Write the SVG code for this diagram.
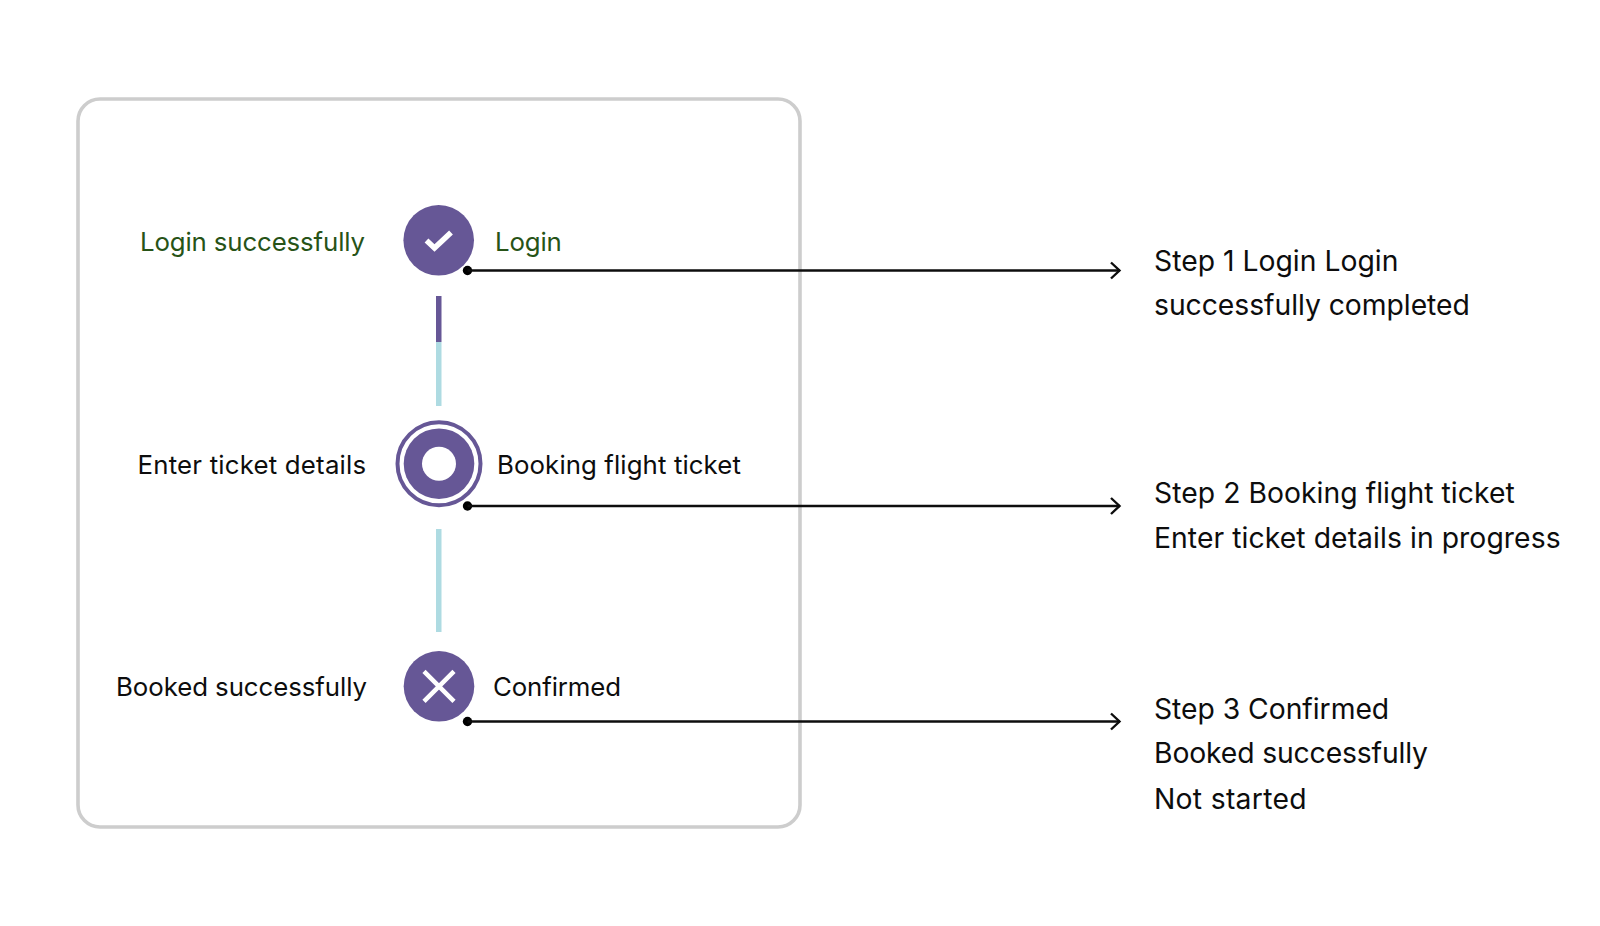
<svg xmlns="http://www.w3.org/2000/svg" width="1600" height="926" viewBox="0 0 1600 926">
<style>
text{font-family:Inter,"Liberation Sans",sans-serif;fill:#0d0d0d;font-weight:420}
.s{font-size:25.8px}
.b{font-size:28.3px}
.g{fill:#275317}
.p{fill:#665796}
.w{fill:none;stroke:#fff;stroke-width:4.5}
.c{fill:none;stroke:#0d0d0d;stroke-width:2.6}
</style>
<defs><marker id="ah" markerUnits="userSpaceOnUse" markerWidth="14" markerHeight="20" refX="12" refY="10" orient="auto"><path d="M3 2L11.500 10L3 18" fill="none" stroke="#0d0d0d" stroke-width="2.400"/></marker></defs>
<rect id="frame" x="78" y="99" width="722" height="728" rx="22" fill="#fff" stroke="#cdcdcd" stroke-width="3.600"/>
<g id="rails">
<rect x="436" y="296" width="5.500" height="46" fill="#665796"/>
<rect x="436" y="342" width="5.500" height="64" fill="#aedbe2"/>
<rect x="436" y="529" width="5.500" height="103" fill="#aedbe2"/>
</g>
<g id="connectors">
<circle cx="467.500" cy="270.500" r="4.700" fill="#000"/><path class="c" d="M467.500 270.500H1120" marker-end="url(#ah)"/>
<circle cx="467.500" cy="506" r="4.700" fill="#000"/><path class="c" d="M467.500 506H1120" marker-end="url(#ah)"/>
<circle cx="467.500" cy="721.500" r="4.700" fill="#000"/><path class="c" d="M467.500 721.500H1120" marker-end="url(#ah)"/>
</g>
<g id="step1">
<circle class="p" cx="438.700" cy="240.300" r="35.300"/>
<path d="M426.500 240.500L434.500 248L451 232.500" fill="none" stroke="#fff" stroke-width="5.500"/>
<text class="s g" x="140" y="251" textLength="225">Login successfully</text>
<text class="s g" x="495" y="251" textLength="66.800">Login</text>
</g>
<g id="step2">
<circle cx="439" cy="463.700" r="41.500" fill="none" stroke="#665796" stroke-width="4"/>
<circle class="p" cx="439" cy="463.700" r="35.300"/>
<circle cx="439" cy="463.700" r="17" fill="#fff"/>
<text class="s" x="137.500" y="474" textLength="228.600">Enter ticket details</text>
<text class="s" x="497" y="474" textLength="243.900">Booking flight ticket</text>
</g>
<g id="step3">
<circle class="p" cx="439" cy="686.300" r="35.300"/>
<path class="w" d="M424 671.300L454 701.300M454 671.300L424 701.300"/>
<text class="s" x="116" y="696" textLength="251">Booked successfully</text>
<text class="s" x="493" y="696" textLength="128">Confirmed</text>
</g>
<g id="notes">
<text class="b" x="1154" y="271" textLength="244.400">Step 1 Login Login</text>
<text class="b" x="1154" y="315" textLength="315.800">successfully completed</text>
<text class="b" x="1154" y="503" textLength="360.700">Step 2 Booking flight ticket</text>
<text class="b" x="1154" y="548" textLength="406.600">Enter ticket details in progress</text>
<text class="b" x="1154" y="719" textLength="235.200">Step 3 Confirmed</text>
<text class="b" x="1154" y="763" textLength="274">Booked successfully</text>
<text class="b" x="1154" y="809" textLength="152.500">Not started</text>
</g>
</svg>
